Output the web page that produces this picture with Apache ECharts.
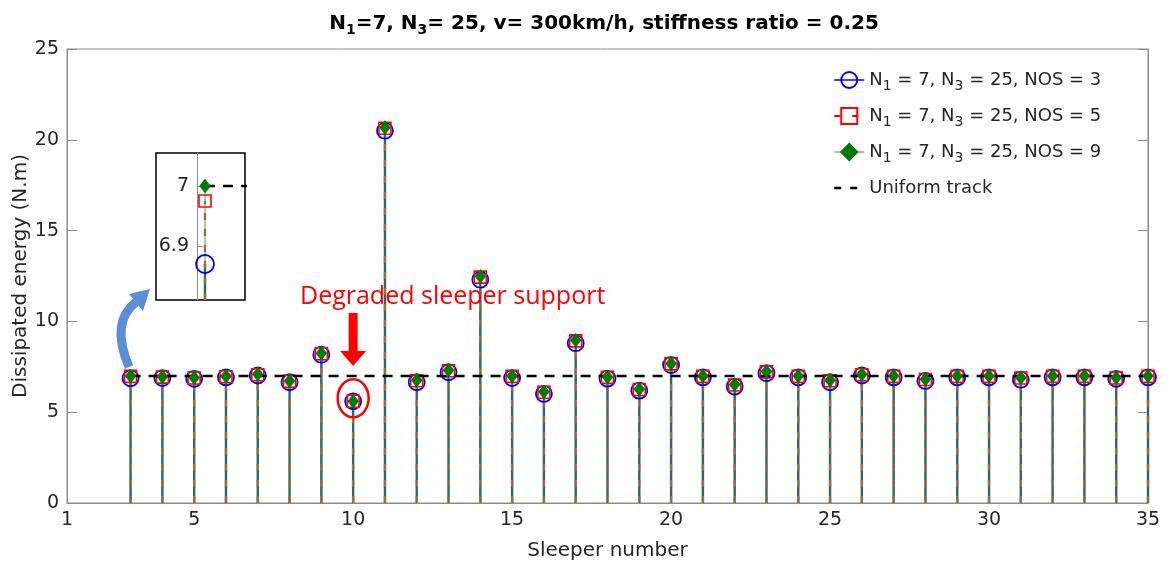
<!DOCTYPE html>
<html><head><meta charset="utf-8">
<script src="https://cdn.jsdelivr.net/npm/echarts@6/dist/echarts.min.js"></script>
<style>html,body{margin:0;padding:0;background:#fff}#c{width:1168px;height:569px}</style>
</head><body><div id="c"></div>
<script>
// ---------------- data ----------------
const sleepers = [3,4,5,6,7,8,9,10,11,12,13,14,15,16,17,18,19,20,21,22,23,24,25,26,27,28,29,30,31,32,33,34,35];
const nos3 = [6.87,6.88,6.84,6.92,7.02,6.65,8.17,5.60,20.50,6.65,7.20,12.30,6.88,6.01,8.80,6.85,6.19,7.60,6.92,6.41,7.15,6.92,6.65,7.02,6.92,6.72,6.92,6.92,6.79,6.92,6.92,6.84,6.92];
const nos5 = [6.975,6.93,6.88,6.95,7.06,6.70,8.22,5.60,20.64,6.73,7.28,12.44,6.97,6.10,8.93,6.92,6.25,7.66,6.97,6.50,7.22,6.97,6.73,7.06,6.97,6.80,6.97,6.97,6.88,6.97,6.97,6.88,6.97];
const nos9 = [7.00,6.95,6.90,6.98,7.09,6.72,8.25,5.60,20.68,6.76,7.31,12.48,7.00,6.12,8.96,6.94,6.27,7.68,7.00,6.52,7.24,7.00,6.76,7.09,7.00,6.82,7.00,7.00,6.90,7.00,7.00,6.90,7.00];
const uniformTrack = [7,7,7,7,7,7,7,7,7,7,7,7,7,7,7,7,7,7,7,7,7,7,7,7,7,7,7,7,7,7,7,7,7];
const xTicks = [1,5,10,15,20,25,30,35];
const yTicks = [0,5,10,15,20,25];
const insetYTicks = [6.9,7];
const insetYTickLabels = ['6.9','7'];
const seriesNames = ['NOS = 3','NOS = 5','NOS = 9','Uniform track'];
const titleText = '{b|N}{bs|1}{b|=7, N}{bs|3}{b|= 25, v= 300km/h, stiffness ratio = 0.25}';
const annotationText = 'Degraded sleeper support';
const degradedSleeper = 10;

// ---------------- helpers ----------------
const FONT = 'DejaVu Sans';
const TXT = '#262626';
const AX = '#8c8c8c';
function pairs(vals){ return sleepers.map((s,i)=>[s, vals[i]]); }
function stem(name, vals, color, width, dash, gi, z){
  return {
    type:'custom', name:name, xAxisIndex:gi, yAxisIndex:gi===0?0:2, z:z, silent:true,
    data: pairs(vals),
    renderItem:(params, api)=>{
      const cs = params.coordSys;
      const x = api.value(0), v = api.value(1);
      const p0 = api.coord([x,0]), p1 = api.coord([x,v]);
      if (p0[0] < cs.x - 0.5 || p0[0] > cs.x + cs.width + 0.5) return null;
      const top = cs.y, bot = cs.y + cs.height;
      const y1 = Math.min(Math.max(p0[1], top), bot), y2 = Math.min(Math.max(p1[1], top), bot);
      return {type:'line', shape:{x1:p0[0], y1:y1, x2:p1[0], y2:y2},
        style:{stroke:color, lineWidth:width, lineDash:dash||null}};
    }
  };
}
function markers(name, vals, symbol, size, itemStyle, gi, z){
  return {
    type:'line', name:name, xAxisIndex:gi, yAxisIndex:gi===0?0:2, z:z,
    data: pairs(vals), symbol:symbol, symbolSize:size, showAllSymbol:true, clip:true,
    lineStyle:{width:0, opacity:0}, itemStyle:itemStyle, silent:true, animation:false
  };
}
function legendLabel(n){
  if (n === 'Uniform track') return '{n|Uniform track}';
  return '{n|N}{s|1}{n| = 7, N}{s|3}{n| = 25, ' + n + '}';
}
const circleStyle = {color:'rgba(0,0,0,0)', borderColor:'#0000ff', borderWidth:1.8};
const squareStyle = {color:'rgba(0,0,0,0)', borderColor:'#ff0000', borderWidth:1.6};
const diamondStyle = {color:'#007a00', borderColor:'#007a00', borderWidth:0.5};

const series = [];
[0,1].forEach(gi=>{
  series.push(stem('s3_'+gi, nos3, '#22608a', 2.4, null, gi, 2));
  series.push(stem('s5_'+gi, nos5, '#dc6a3c', 2.4, [7,9], gi, 2));
  series.push(stem('s9_'+gi, nos9, '#2f7a40', 0.8, null, gi, 2));
  const sfx = gi===0 ? '' : ' inset';
  series.push(markers(seriesNames[0]+sfx, nos3, 'circle', gi===0?16:18, circleStyle, gi, 3));
  series.push(markers(seriesNames[1]+sfx, nos5, 'rect', 12, squareStyle, gi, 4));
  series.push({type:'line', name:seriesNames[3]+sfx, xAxisIndex:gi, yAxisIndex:gi===0?0:2, z:5,
    data:pairs(uniformTrack), symbol:'none', clip:true, silent:true, animation:false,
    lineStyle:{color:'#000', width:2.5, type:[10,8]}});
  series.push(markers(seriesNames[2]+sfx, nos9, 'diamond', [11,14], diamondStyle, gi, 6));
});

const chart = echarts.init(document.getElementById('c'), null, {renderer:'canvas'});
const option = {
  animation:false,
  backgroundColor:'#fff',
  title:{
    text:titleText, left:599, top:6, textAlign:'center',
    textStyle:{rich:{
      b:{fontFamily:FONT, fontWeight:'bold', fontSize:20, color:'#000', lineHeight:26},
      bs:{fontFamily:FONT, fontWeight:'bold', fontSize:14, color:'#000', lineHeight:10, verticalAlign:'bottom'}
    }}
  },
  legend:{
    orient:'vertical', left:833, top:71, padding:0, itemWidth:30, itemHeight:20, itemGap:14,
    selectedMode:false,
    formatter:legendLabel,
    textStyle:{rich:{
      n:{fontFamily:FONT, fontSize:18, color:TXT, lineHeight:26},
      s:{fontFamily:FONT, fontSize:14, color:TXT, lineHeight:10, verticalAlign:'bottom'}
    }},
    data:[
      {name:seriesNames[0], lineStyle:{color:'#0000ff', width:1.5, opacity:1, type:'solid'}},
      {name:seriesNames[1], lineStyle:{color:'#ff0000', width:2, opacity:1, type:[6,12]}},
      {name:seriesNames[2], lineStyle:{color:'#5aaa5a', width:1.2, opacity:1, type:'solid'}},
      {name:seriesNames[3], lineStyle:{color:'#000', width:2.5, opacity:1, type:[7,9]}, itemStyle:{opacity:0}}
    ]
  },
  grid:[
    {left:67, top:49, right:20, bottom:66, show:true, borderColor:AX, borderWidth:1, containLabel:false, outerBoundsMode:'none'},
    {left:197, top:153, width:48, height:147, show:false, containLabel:false, outerBoundsMode:'none'}
  ],
  xAxis:[
    {type:'value', gridIndex:0, min:1, max:35,
      name:'Sleeper number', nameLocation:'middle', nameGap:38,
      nameTextStyle:{fontFamily:FONT, fontSize:20, color:TXT},
      axisLine:{show:true, lineStyle:{color:AX}},
      axisTick:{show:true, inside:true, length:8, customValues:xTicks, lineStyle:{color:AX}},
      axisLabel:{customValues:xTicks, margin:8, fontFamily:FONT, fontSize:19, color:TXT},
      splitLine:{show:false}},
    {type:'value', gridIndex:1, min:2.95, max:3.25, show:false}
  ],
  yAxis:[
    {type:'value', gridIndex:0, min:0, max:25, interval:5,
      name:'Dissipated energy (N.m)', nameLocation:'middle', nameGap:36, nameMoveOverlap:false,
      nameTextStyle:{fontFamily:FONT, fontSize:20, color:TXT},
      axisLine:{show:true, lineStyle:{color:AX}},
      axisTick:{show:true, inside:true, length:10, lineStyle:{color:AX}},
      axisLabel:{margin:8, fontFamily:FONT, fontSize:19, color:TXT,
        formatter:v=>String(yTicks[yTicks.indexOf(v)])},
      splitLine:{show:false}},
    {type:'value', gridIndex:0, position:'right', min:0, max:25, interval:5,
      axisLine:{show:true, lineStyle:{color:AX}},
      axisTick:{show:true, inside:true, length:10, lineStyle:{color:AX}},
      axisLabel:{show:false}, splitLine:{show:false}},
    {type:'value', gridIndex:1, min:6.81, max:7.055,
      axisLine:{show:true, lineStyle:{color:AX}},
      axisTick:{show:true, inside:true, length:6, customValues:insetYTicks, lineStyle:{color:AX}},
      axisLabel:{customValues:insetYTicks, margin:8, fontFamily:FONT, fontSize:19, color:TXT,
        formatter:v=>insetYTickLabels[insetYTicks.findIndex(t=>Math.abs(t-v)<1e-6)]},
      splitLine:{show:false}}
  ],
  series:series
};
chart.setOption(option);

// ---------------- annotations ----------------
const pt = chart.convertToPixel({xAxisIndex:0, yAxisIndex:0}, [degradedSleeper, nos9[sleepers.indexOf(degradedSleeper)]]);
const ax = pt[0];
chart.setOption({graphic:[
  {type:'rect', z:0, shape:{x:156, y:153, width:89, height:147}, style:{fill:'none', stroke:'#000', lineWidth:1.5}, silent:true},
  {type:'text', z:10, left:300, top:284, style:{text:annotationText, fill:'#ff0000', font:'25px "Open Sans"'}, silent:true},
  {type:'polygon', z:10, shape:{points:[[ax-4.5,313],[ax+4.5,313],[ax+4.5,351],[ax+13,351],[ax,366],[ax-13,351],[ax-4.5,351]]}, style:{fill:'#ff0000'}, silent:true},
  {type:'ellipse', z:10, shape:{cx:ax, cy:pt[1]-3, rx:15.5, ry:19}, style:{fill:'none', stroke:'#ff0000', lineWidth:2.5}, silent:true},
  {type:'bezierCurve', z:10, shape:{x1:129, y1:367, x2:136, y2:302, cpx1:110, cpy1:322}, style:{fill:'none', stroke:'#5b8ed6', lineWidth:9}, silent:true},
  {type:'polygon', z:10, shape:{points:[[150,289],[129,294],[143,311]]}, style:{fill:'#5b8ed6'}, silent:true}
]});
</script>
</body></html>
